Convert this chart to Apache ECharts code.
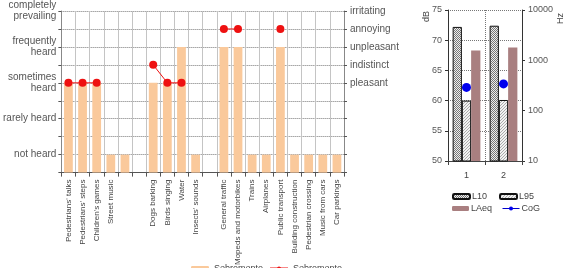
<!DOCTYPE html>
<html><head><meta charset="utf-8">
<script src="https://cdn.jsdelivr.net/npm/echarts@6/dist/echarts.min.js"></script>
<style>html,body{margin:0;padding:0;background:#fff}#c{width:568px;height:268px}</style>
</head><body><div id="c"></div>
<script>
const categories = ["Pedestrians' talks","Pedestrians' steps","Children's games","Street music"," ","  ","Dogs barking","Birds singing","Water","Insects' sounds","   ","General traffic","Mopeds and motorbikes","Trains","Airplanes","Public transport","Building construction","Pedestrian crossing","Music from cars","Car parkings"];
const presenceValues = [3,3,3,1,1,null,3,3,4,1,null,4,4,1,1,4,1,1,1,1];
const assessmentValues = [3,3,3,null,null,null,3.5,3,3,null,null,4.5,4.5,null,null,4.5,null,null,null,null];
const presenceLabels = {1:'not heard',2:'rarely heard',3:'sometimes\nheard',4:'frequently\nheard',5:'completely\nprevailing'};
const assessmentLabels = {3:'pleasant',3.5:'indistinct',4:'unpleasant',4.5:'annoying',5:'irritating'};
const siteCategories = ['1','2'];
const L10 = [72.2,72.4];
const L95 = [60.0,60.1];
const LAeq = [68.3,68.8];
const CoG = [290,340];

const FONT = "'Liberation Sans', Arial, sans-serif";
function pat(w,h,draw){const c=document.createElement('canvas');c.width=w;c.height=h;const g=c.getContext('2d');draw(g);return {image:c,repeat:'repeat'};}
const l10Pat = pat(2,2,g=>{g.fillStyle='#eeeeee';g.fillRect(0,0,2,2);g.fillStyle='#777777';g.fillRect(0,0,1,1);g.fillRect(1,1,1,1);});
const l95Pat = pat(3,3,g=>{g.fillStyle='#f2f2f2';g.fillRect(0,0,3,3);g.fillStyle='#ababab';for(let i=0;i<3;i++){g.fillRect(i,2-i,1,1);}});

const chart = echarts.init(document.getElementById('c'));
const dotted = {type:'dotted', color:'#777', width:1};
chart.setOption({
  animation:false,
  textStyle:{fontFamily:FONT},
  grid:[
    {left:56, top:10, width:288, height:165},
    {left:448, top:10, width:74, height:151}
  ],
  xAxis:[
    {type:'category', gridIndex:0, data:categories, boundaryGap:true,
     axisLine:{lineStyle:{color:'#555'}},
     axisTick:{show:true, length:4, lineStyle:{color:'#555'}},
     axisLabel:{rotate:90, interval:0, fontSize:8, color:'#444', margin:7, fontFamily:FONT},
     splitLine:{show:true, lineStyle:{color:'#c4c4c4', width:1}}},
    {type:'category', gridIndex:1, data:siteCategories, boundaryGap:true,
     axisLine:{lineStyle:{color:'#444'}},
     axisTick:{show:true, length:4, lineStyle:{color:'#444'}},
     axisLabel:{fontSize:9, color:'#444', margin:10, fontFamily:FONT},
     splitLine:{show:true, lineStyle:dotted}}
  ],
  yAxis:[
    {type:'value', gridIndex:0, position:'left', min:0.5, max:5, interval:0.5,
     axisLine:{show:true, lineStyle:{color:'#888'}},
     axisTick:{show:true, length:3, lineStyle:{color:'#555'}},
     axisLabel:{formatter:v=>presenceLabels[v]||'', fontSize:10, color:'#555', lineHeight:11, margin:5, fontFamily:FONT},
     splitLine:{show:true, lineStyle:dotted}},
    {type:'value', gridIndex:0, position:'right', min:0.5, max:5, interval:0.5,
     axisLine:{show:true, lineStyle:{color:'#888'}},
     axisTick:{show:true, length:3, lineStyle:{color:'#555'}},
     axisLabel:{formatter:v=>assessmentLabels[v]||'', fontSize:10, color:'#555', margin:6, fontFamily:FONT},
     splitLine:{show:false}},
    {type:'value', gridIndex:1, position:'left', min:50, max:75, interval:5,
     axisLine:{show:true, lineStyle:{color:'#333'}},
     axisTick:{show:true, length:3, lineStyle:{color:'#333'}},
     axisLabel:{fontSize:9, color:'#555', margin:6, fontFamily:FONT},
     splitLine:{show:true, lineStyle:dotted}},
    {type:'log', gridIndex:1, position:'right', min:10, max:10000, logBase:10,
     axisLine:{show:true, lineStyle:{color:'#333'}},
     axisTick:{show:true, length:3, lineStyle:{color:'#333'}},
     axisLabel:{formatter:v=>String(Math.round(v)), fontSize:9, color:'#555', margin:6, fontFamily:FONT},
     splitLine:{show:false}}
  ],
  legend:[
    {data:['Sobremonte','Sobremonte '], left:186, top:259, itemWidth:18, itemHeight:5, itemGap:6,
     textStyle:{fontSize:9, color:'#444', fontFamily:FONT}},
    {data:['L10','L95'], left:447, top:187, itemWidth:17, itemHeight:5, itemGap:12,
     textStyle:{fontSize:9, color:'#444', fontFamily:FONT, padding:[0,0,0,-3]}},
    {data:['LAeq','CoG'], left:447, top:199, itemWidth:17, itemHeight:5, itemGap:10,
     lineStyle:{opacity:1, width:1, color:'#0000cc'},
     textStyle:{fontSize:9, color:'#444', fontFamily:FONT, padding:[0,0,0,-3]}}
  ],
  graphic:[
    {type:'text', x:422, y:22, rotation:Math.PI/2, style:{text:'dB', font:'9px '+FONT, fill:'#444'}},
    {type:'text', x:556, y:24, rotation:Math.PI/2, style:{text:'Hz', font:'9px '+FONT, fill:'#444'}}
  ],
  series:[
    {name:'Sobremonte', type:'bar', xAxisIndex:0, yAxisIndex:0, data:presenceValues,
     barWidth:'62%', itemStyle:{color:'#fac99b'}},
    {name:'Sobremonte ', type:'line', xAxisIndex:0, yAxisIndex:1, data:assessmentValues,
     connectNulls:false, symbol:'circle', symbolSize:8,
     itemStyle:{color:'#ee1111'}, lineStyle:{color:'#ee1111', width:1}},
    {name:'L10', type:'bar', xAxisIndex:1, yAxisIndex:2, data:L10, barGap:'0%', barCategoryGap:'25%',
     itemStyle:{color:l10Pat, borderColor:'#111', borderWidth:1}},
    {name:'L95', type:'bar', xAxisIndex:1, yAxisIndex:2, data:L95, barGap:'0%', barCategoryGap:'25%',
     itemStyle:{color:l95Pat, borderColor:'#111', borderWidth:1}},
    {name:'LAeq', type:'bar', xAxisIndex:1, yAxisIndex:2, data:LAeq, barGap:'0%', barCategoryGap:'25%',
     itemStyle:{color:'#a97f80'}},
    {name:'CoG', type:'line', xAxisIndex:1, yAxisIndex:3, data:CoG, symbol:'circle', symbolSize:9,
     itemStyle:{color:'#0000ee'}, lineStyle:{opacity:0, color:'#0000cc'}, z:5}
  ]
});
</script></body></html>
